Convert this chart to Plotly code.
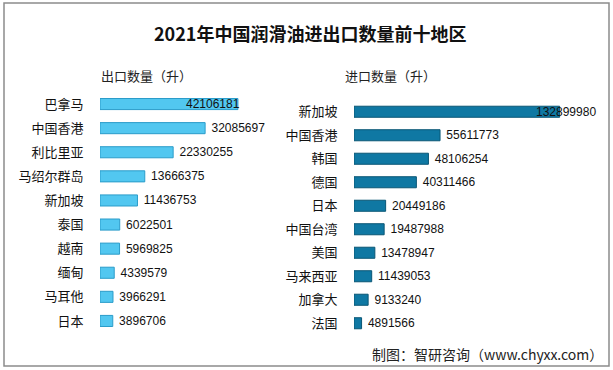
import plotly.graph_objects as go

W, H = 613, 370

export_regions = ["巴拿马", "中国香港", "利比里亚", "马绍尔群岛", "新加坡", "泰国", "越南", "缅甸", "马耳他", "日本"]
export_values = [42106181, 32085697, 22330255, 13666375, 11436753, 6022501, 5969825, 4339579, 3966291, 3896706]

import_regions = ["新加坡", "中国香港", "韩国", "德国", "日本", "中国台湾", "美国", "马来西亚", "加拿大", "法国"]
import_values = [132899980, 55611773, 48106254, 40311466, 20449186, 19487988, 13478947, 11439053, 9133240, 4891566]

title_text = "2021年中国润滑油进出口数量前十地区"
export_title = "出口数量（升）"
import_title = "进口数量（升）"
source_text = "制图：智研咨询（www.chyxx.com）"

CJK = "Noto Sans CJK SC"
NUM = "Liberation Sans"

def px(x):
    return x / W

def py(y):
    return 1 - y / H

fig = go.Figure()

# export bars (left)
fig.add_trace(go.Bar(
    x=export_values, y=export_regions, orientation="h",
    xaxis="x", yaxis="y",
    marker=dict(color="#52C7F0", line=dict(color="#2B9CC9", width=1)),
    width=0.46,
    text=[""] + [" " + str(v) for v in export_values[1:]],
    textposition="outside", cliponaxis=False, constraintext="none",
    textfont=dict(family=NUM, size=12, color="#111"),
    hoverinfo="skip",
))

# import bars (right)
fig.add_trace(go.Bar(
    x=import_values, y=import_regions, orientation="h",
    xaxis="x2", yaxis="y2",
    marker=dict(color="#0F78A3", line=dict(color="#0A5675", width=1)),
    width=0.47,
    text=[""] + [" " + str(v) for v in import_values[1:]],
    textposition="outside", cliponaxis=False, constraintext="none",
    textfont=dict(family=NUM, size=12, color="#111"),
    hoverinfo="skip",
))

annotations = [
    dict(text=f"<b>{title_text}</b>", x=px(310), y=py(33), xref="paper", yref="paper",
         xanchor="center", yanchor="middle", showarrow=False,
         font=dict(family=CJK, size=18, color="#111")),
    dict(text=export_title, x=px(99), y=py(75), xref="paper", yref="paper",
         xanchor="left", yanchor="middle", showarrow=False,
         font=dict(family=CJK, size=13, color="#222")),
    dict(text=import_title, x=px(343), y=py(75), xref="paper", yref="paper",
         xanchor="left", yanchor="middle", showarrow=False,
         font=dict(family=CJK, size=13, color="#222")),
    dict(text=source_text, x=px(605), y=py(354), xref="paper", yref="paper",
         xanchor="right", yanchor="middle", showarrow=False,
         font=dict(family=CJK, size=14, color="#222")),
    # top bar labels drawn over the bar end
    dict(text=str(export_values[0]), x=export_values[0], y=export_regions[0], xref="x", yref="y",
         xanchor="right", yanchor="middle", xshift=4, showarrow=False,
         font=dict(family=NUM, size=12, color="#111")),
    dict(text=str(import_values[0]), x=import_values[0], y=import_regions[0], xref="x2", yref="y2",
         xanchor="center", yanchor="middle", xshift=6, showarrow=False,
         font=dict(family=NUM, size=12, color="#111")),
]

fig.update_layout(
    width=W, height=H,
    margin=dict(l=0, r=0, t=0, b=0),
    paper_bgcolor="white", plot_bgcolor="white",
    showlegend=False,
    bargap=0.5,
    xaxis=dict(domain=[px(100), px(290)], range=[0, 58e6], visible=False, fixedrange=True),
    yaxis=dict(domain=[py(333), py(92)], anchor="x", autorange="reversed",
               showgrid=False, showline=False, zeroline=False,
               ticks="outside", ticklen=13, tickcolor="rgba(0,0,0,0)",
               tickfont=dict(family=CJK, size=13, color="#111")),
    xaxis2=dict(domain=[px(354), px(600)], range=[0, 159e6], visible=False, fixedrange=True),
    yaxis2=dict(domain=[py(335), py(100)], anchor="x2", autorange="reversed",
                showgrid=False, showline=False, zeroline=False,
                ticks="outside", ticklen=13, tickcolor="rgba(0,0,0,0)",
                tickfont=dict(family=CJK, size=13, color="#111")),
    annotations=annotations,
    shapes=[dict(type="rect", xref="paper", yref="paper",
                 x0=px(4), x1=px(609), y0=py(366), y1=py(3),
                 line=dict(color="#8C8C8C", width=1.5))],
)

fig.write_html("out.html", config={"displayModeBar": False},
               post_script="document.body.style.margin='0';document.body.style.overflow='hidden';")
